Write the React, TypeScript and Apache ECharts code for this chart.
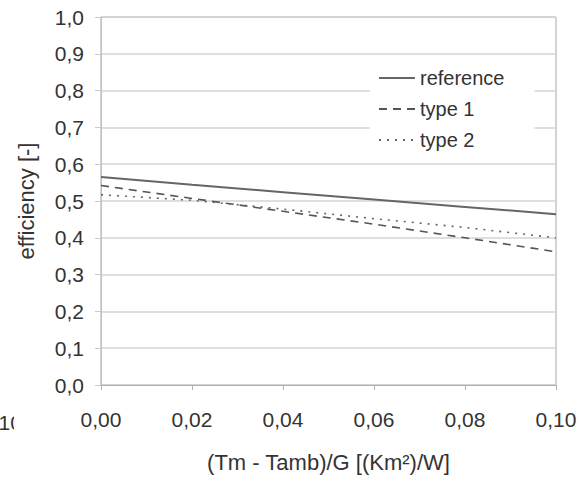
import React, { useEffect, useRef } from "react";
import * as echarts from "echarts";

const xValues = [0, 0.02, 0.04, 0.06, 0.08, 0.1];
const referenceValues = [0.565, 0.544, 0.524, 0.504, 0.484, 0.464];
const type1Values = [0.542, 0.507, 0.472, 0.437, 0.4, 0.362];
const type2Values = [0.517, 0.502, 0.478, 0.452, 0.428, 0.4];
const seriesNames = ["reference", "type 1", "type 2"];
const xAxisName = "(Tm - Tamb)/G [(Km²)/W]";
const yAxisName = "efficiency [-]";
const neighbourLabel = "0,10";

const FONT = "'Liberation Sans', Arial, sans-serif";

export default function App() {
  const ref = useRef<HTMLDivElement>(null);
  useEffect(() => {
    if (!ref.current) return;
    const chart = echarts.init(ref.current, undefined, { renderer: "svg" });
    const pair = (vals: number[]) => xValues.map((x, i) => [x, vals[i]]);
    chart.setOption({
      animation: false,
      backgroundColor: "#ffffff",
      textStyle: { fontFamily: FONT },
      grid: {
        left: 101,
        right: 29,
        top: 17,
        bottom: 90,
        containLabel: false,
        show: true,
        borderColor: "#a8a8a8",
        borderWidth: 1,
      },
      legend: {
        left: 370,
        top: 64,
        orient: "vertical",
        backgroundColor: "#ffffff",
        padding: [4, 30, 6, 8],
        itemWidth: 36,
        itemHeight: 14,
        itemGap: 11,
        itemStyle: { opacity: 0 },
        textStyle: { fontSize: 20, color: "#333", fontFamily: FONT },
        data: seriesNames,
      },
      xAxis: {
        type: "value",
        min: 0,
        max: 0.1,
        interval: 0.02,
        name: xAxisName,
        nameLocation: "middle",
        nameGap: 66,
        nameTextStyle: { fontSize: 22, color: "#333", fontFamily: FONT },
        axisLine: { show: true, lineStyle: { color: "#b0b0b0", width: 1 } },
        axisTick: { show: true, length: 5, lineStyle: { color: "#b0b0b0" } },
        axisLabel: {
          fontSize: 21,
          color: "#333",
          margin: 24,
          fontFamily: FONT,
          formatter: (v: number) => v.toFixed(2).replace(".", ","),
        },
        splitLine: { show: false },
      },
      yAxis: {
        type: "value",
        min: 0,
        max: 1,
        interval: 0.1,
        name: yAxisName,
        nameLocation: "middle",
        nameGap: 64,
        nameTextStyle: { fontSize: 22, color: "#333", fontFamily: FONT },
        axisLine: { show: true, lineStyle: { color: "#c0c0c0", width: 1 } },
        axisTick: { show: true, length: 6, lineStyle: { color: "#c8c8c8" } },
        axisLabel: {
          fontSize: 21,
          color: "#333",
          margin: 17,
          fontFamily: FONT,
          formatter: (v: number) => v.toFixed(1).replace(".", ","),
        },
        splitLine: { show: true, lineStyle: { color: "#d4d4d4", width: 1.5 } },
      },
      graphic: [
        {
          type: "text",
          left: -19,
          top: 412,
          style: {
            text: neighbourLabel,
            fontSize: 21,
            fill: "#333",
            fontFamily: FONT,
          },
          z: 10,
        },
        {
          type: "rect",
          left: 14,
          top: 405,
          shape: { width: 14, height: 34 },
          style: { fill: "#ffffff" },
          z: 11,
        },
      ],
      series: [
        {
          name: seriesNames[0],
          type: "line",
          data: pair(referenceValues),
          symbol: "none",
          lineStyle: { color: "#666666", width: 2, type: "solid" },
          itemStyle: { color: "#666666" },
        },
        {
          name: seriesNames[1],
          type: "line",
          data: pair(type1Values),
          symbol: "none",
          lineStyle: { color: "#555555", width: 1.6, type: [8, 6] },
          itemStyle: { color: "#555555" },
        },
        {
          name: seriesNames[2],
          type: "line",
          data: pair(type2Values),
          symbol: "none",
          lineStyle: { color: "#666666", width: 1.6, type: [2, 6] },
          itemStyle: { color: "#666666" },
        },
      ],
    });
    return () => chart.dispose();
  }, []);
  return (
    <div
      ref={ref}
      style={{ position: "fixed", left: 0, top: 0, width: 585, height: 478 }}
    />
  );
}
